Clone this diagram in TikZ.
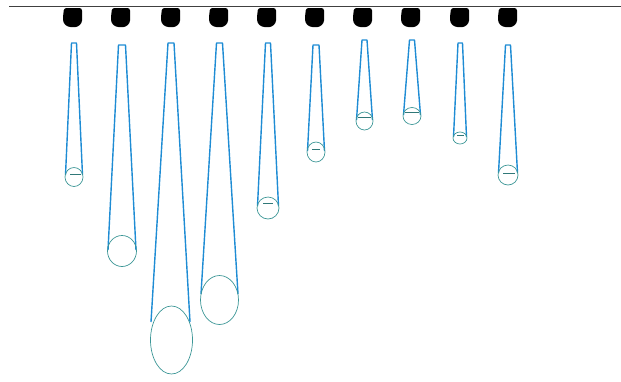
\documentclass[tikz,border=0pt]{standalone}
\usepackage{tikz}

\definecolor{tubeblue}{RGB}{30,140,212}
\definecolor{dropteal}{RGB}{60,150,150}

\begin{document}
\begin{tikzpicture}[x=1pt,y=-1pt,
  tube/.style={tubeblue,line width=1.4pt,line join=round},
  bulb/.style={dropteal,line width=0.7pt},
  skin/.style={dropteal!80!black,line width=0.6pt},
  nozzle/.style={fill=black,rounded corners=2.5pt}]
  \useasboundingbox (0,0) rectangle (621,381);
  \draw[black!75,line width=1.6pt] (9,6.5) -- (621,6.5);
  % nozzles
  \fill[nozzle] (64,8) -- (82,8) -- (82,18) .. controls (82,24) and (78,27) .. (73,27) .. controls (67,27) and (63,24) .. (63,17) -- cycle;
  \fill[nozzle] (112,8) -- (130,8) -- (130,18) .. controls (130,24) and (126,27) .. (121,27) .. controls (115,27) and (111,24) .. (111,17) -- cycle;
  \fill[nozzle] (162,8) -- (180,8) -- (180,18) .. controls (180,24) and (176,27) .. (171,27) .. controls (165,27) and (161,24) .. (161,17) -- cycle;
  \fill[nozzle] (210,8) -- (228,8) -- (228,18) .. controls (228,24) and (224,27) .. (219,27) .. controls (213,27) and (209,24) .. (209,17) -- cycle;
  \fill[nozzle] (258,8) -- (276,8) -- (276,18) .. controls (276,24) and (272,27) .. (267,27) .. controls (261,27) and (257,24) .. (257,17) -- cycle;
  \fill[nozzle] (306,8) -- (324,8) -- (324,18) .. controls (324,24) and (320,27) .. (315,27) .. controls (309,27) and (305,24) .. (305,17) -- cycle;
  \fill[nozzle] (354,8) -- (372,8) -- (372,18) .. controls (372,24) and (368,27) .. (363,27) .. controls (357,27) and (353,24) .. (353,17) -- cycle;
  \fill[nozzle] (402,8) -- (420,8) -- (420,18) .. controls (420,24) and (416,27) .. (411,27) .. controls (405,27) and (401,24) .. (401,17) -- cycle;
  \fill[nozzle] (451,8) -- (469,8) -- (469,18) .. controls (469,24) and (465,27) .. (460,27) .. controls (454,27) and (450,24) .. (450,17) -- cycle;
  \fill[nozzle] (499,8) -- (517,8) -- (517,18) .. controls (517,24) and (513,27) .. (508,27) .. controls (502,27) and (498,24) .. (498,17) -- cycle;
  % drops
  \draw[tube] (65.5,175) -- (71.5,43) -- (76.5,43) -- (82.5,175);
  \draw[bulb] (74,177) ellipse (9 and 9.5);
  \draw[skin] (70,174) -- (81,174);
  \draw[tube] (108,250) -- (118.5,45) -- (125.5,45) -- (136,250);
  \draw[bulb] (122,251) ellipse (14.5 and 15.5);
  \draw[tube] (151,322) -- (168,43) -- (174,43) -- (190,322);
  \draw[bulb] (171.5,340) ellipse (21 and 34);
  \draw[tube] (201,294) -- (216.5,43) -- (222.5,43) -- (238,294);
  \draw[bulb] (219.5,300) ellipse (19 and 24.5);
  \draw[tube] (257.5,206) -- (265.5,43) -- (270.5,43) -- (278.5,206);
  \draw[bulb] (268,208) ellipse (11 and 11);
  \draw[skin] (263,203) -- (273,203);
  \draw[tube] (307.5,151) -- (313,45) -- (319,45) -- (324.5,151);
  \draw[bulb] (316,152) ellipse (9 and 10);
  \draw[skin] (312,149) -- (320,149);
  \draw[tube] (356.5,120) -- (362,40) -- (367,40) -- (372.5,120);
  \draw[bulb] (364.5,121) ellipse (8.5 and 9);
  \draw[skin] (358,117) -- (371,117);
  \draw[tube] (403.5,115) -- (409.5,40) -- (414.5,40) -- (420.5,115);
  \draw[bulb] (412,116) ellipse (9 and 8.5);
  \draw[skin] (405,112) -- (419,112);
  \draw[tube] (453.5,137) -- (458,43) -- (462.5,43) -- (466.5,137);
  \draw[bulb] (460,138) ellipse (7 and 6);
  \draw[skin] (457,135) -- (464,135);
  \draw[tube] (498.5,173) -- (505.5,45) -- (510.5,45) -- (517.5,173);
  \draw[bulb] (508,175) ellipse (10 and 10);
  \draw[skin] (503,173) -- (515,173);
\end{tikzpicture}
\end{document}
